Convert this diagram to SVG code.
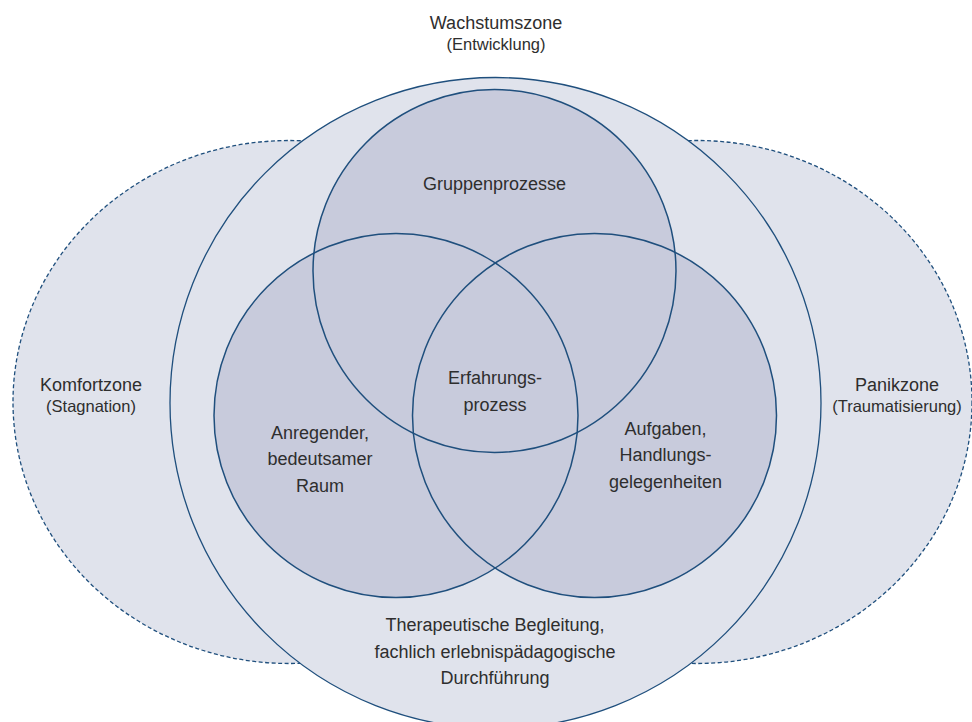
<svg xmlns="http://www.w3.org/2000/svg" width="972" height="722" viewBox="0 0 972 722">
<style>
.zone{fill:#e0e3ec;stroke:#1f4f7d;stroke-width:1.3}
.dash{stroke-dasharray:4 2.5}
.venn{fill:#c8cbdc;stroke:none}
.ring{fill:none;stroke:#1f4f7d;stroke-width:1.5}
text{font-family:"Liberation Sans",Arial,sans-serif;fill:#2e2e2e;text-anchor:middle}
.t{font-size:18px}
.s{font-size:16.5px}
</style>
<rect width="972" height="722" fill="#ffffff"/>
<g id="komfortzone">
<ellipse class="zone dash" cx="289" cy="402" rx="276" ry="261.5"/>
<text class="t" x="91" y="390.5">Komfortzone</text>
<text class="s" x="91" y="412">(Stagnation)</text>
</g>
<g id="panikzone">
<ellipse class="zone dash" cx="697" cy="402" rx="275" ry="261.5"/>
<text class="t" x="897" y="390.5">Panikzone</text>
<text class="s" x="897" y="412">(Traumatisierung)</text>
</g>
<g id="wachstumszone">
<circle class="zone" cx="495.5" cy="403" r="325.5"/>
<text class="t" x="496" y="28.5">Wachstumszone</text>
<text class="s" x="496" y="50">(Entwicklung)</text>
</g>
<g id="venn-fills">
<circle class="venn" cx="494.5" cy="271" r="181.5"/>
<circle class="venn" cx="396" cy="415.5" r="182"/>
<circle class="venn" cx="594.5" cy="415.5" r="182"/>
</g>
<g id="gruppenprozesse">
<circle class="ring" cx="494.5" cy="271" r="181.5"/>
<text class="t" x="494.5" y="189.5">Gruppenprozesse</text>
</g>
<g id="raum">
<circle class="ring" cx="396" cy="415.5" r="182"/>
<text class="t" x="320" y="438.5">Anregender,</text>
<text class="t" x="320" y="465">bedeutsamer</text>
<text class="t" x="320" y="491.5">Raum</text>
</g>
<g id="aufgaben">
<circle class="ring" cx="594.5" cy="415.5" r="182"/>
<text class="t" x="665.5" y="434.5">Aufgaben,</text>
<text class="t" x="665.5" y="461">Handlungs-</text>
<text class="t" x="665.5" y="487.5">gelegenheiten</text>
</g>
<g id="erfahrungsprozess">
<text class="t" x="495" y="383.5">Erfahrungs-</text>
<text class="t" x="495" y="411">prozess</text>
</g>
<g id="begleitung">
<text class="t" x="495" y="631">Therapeutische Begleitung,</text>
<text class="t" x="495" y="657.5">fachlich erlebnispädagogische</text>
<text class="t" x="495" y="684">Durchführung</text>
</g>
</svg>
